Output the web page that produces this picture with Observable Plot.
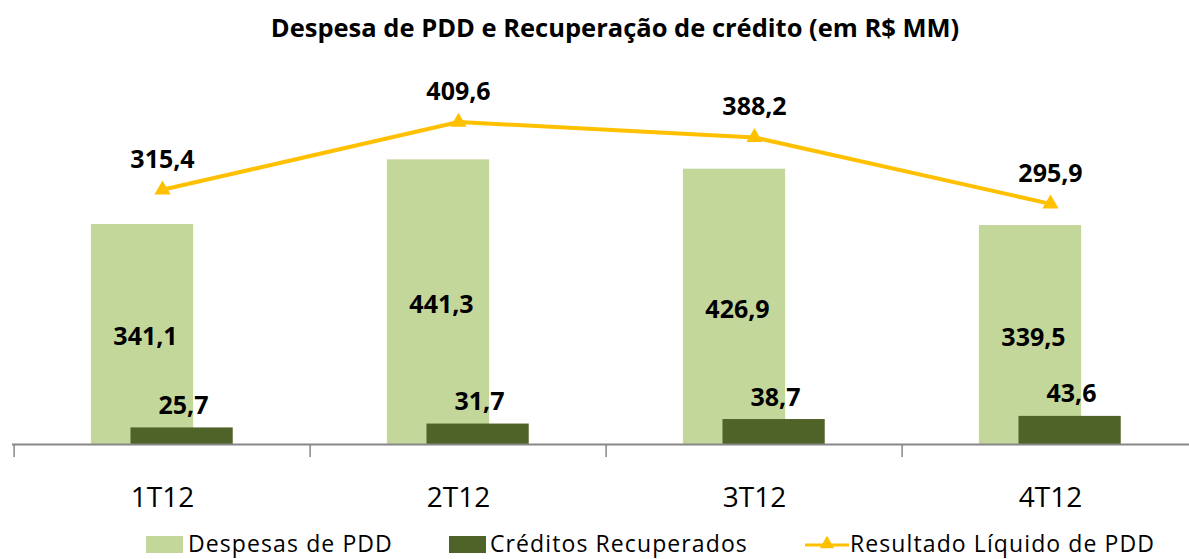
<!DOCTYPE html>
<html>
<head>
<meta charset="utf-8">
<script src="https://cdn.jsdelivr.net/npm/d3@7"></script>
<script src="https://cdn.jsdelivr.net/npm/@observablehq/plot@0.6"></script>
<style>
  html, body { margin: 0; padding: 0; background: #fff; overflow: hidden; }
  body { width: 1189px; height: 559px; font-family: "Open Sans", sans-serif; }
  #title { height: 50px; line-height: 54px; text-align: center; padding-left: 41px; box-sizing: border-box;
           font-weight: 700; font-size: 25.5px; color: #000; white-space: nowrap; }
  #legend { position: relative; height: 39px; }
  #legend .sw { position: absolute; top: 16px; width: 37px; height: 17px; }
  #legend .lab { position: absolute; top: 7px; font-size: 23px; line-height: 32px; letter-spacing: 1.1px; color: #000; white-space: nowrap; }
  svg { display: block; }
</style>
</head>
<body>
<div id="title">Despesa de PDD e Recuperação de crédito (em R$ MM)</div>
<div id="chart"></div>
<div id="legend"></div>
<script>
const categories = ["1T12", "2T12", "3T12", "4T12"];
const despesas = [341.1, 441.3, 426.9, 339.5];
const creditos = [25.7, 31.7, 38.7, 43.6];
const resultado = [315.4, 409.6, 388.2, 295.9];
const seriesNames = ["Despesas de PDD", "Créditos Recuperados", "Resultado Líquido de PDD"];
const colors = ["#C4D79B", "#4F6228", "#FFC000"];
const fmt = v => v.toFixed(1).replace(".", ",");

// secondary axis (line) mapped onto the primary axis
const primaryDomain = [0, 500];
const secondaryDomain = [-38.4, 409.6];
const toPrimary = d3.scaleLinear().domain(secondaryDomain).range(primaryDomain);

const rows = categories.map((c, i) => ({cat: c, d: despesas[i], c: creditos[i], r: resultado[i], rp: toPrimary(resultado[i])}));

const width = 1189, marginLeft = 12, marginRight = -10;
const band = (width - marginLeft - marginRight) / categories.length;
const barW = 103;
const inset = (band - barW) / 2;

const chart = Plot.plot({
  width, height: 470,
  marginLeft, marginRight, marginTop: 71.5, marginBottom: 76,
  style: {fontFamily: "Open Sans, sans-serif", overflow: "visible"},
  x: {domain: categories, padding: 0, axis: null},
  y: {domain: primaryDomain, axis: null},
  marks: [
    Plot.barY(rows, {x: "cat", y: "d", fill: colors[0], insetLeft: inset, insetRight: inset, dx: -20}),
    Plot.barY(rows, {x: "cat", y: "c", fill: colors[1], insetLeft: inset, insetRight: inset, dx: 19.6}),
    Plot.ruleY([0], {stroke: "#878787", strokeWidth: 2}),
    Plot.ruleX(categories, {x: d => d, dx: -band / 2, y1: 0, y2: -20, stroke: "#878787", strokeWidth: 1.5}),
    Plot.ruleX(categories.slice(-1), {x: d => d, dx: band / 2, y1: 0, y2: -20, stroke: "#878787", strokeWidth: 1.5}),
    Plot.text(rows, {x: "cat", y: 0, text: "cat", dy: 54, fontSize: 28, fill: "#000"}),
    Plot.text(rows, {x: "cat", y: d => d.d / 2, text: d => fmt(d.d), dx: -17, dy: 3, fontSize: 25, fontWeight: 700, fill: "#000"}),
    Plot.text(rows, {x: "cat", y: "c", text: d => fmt(d.c), dx: 21, dy: -22, fontSize: 25, fontWeight: 700, fill: "#000"}),
    Plot.line(rows, {x: "cat", y: "rp", stroke: colors[2], strokeWidth: 4}),
    Plot.dot(rows, {x: "cat", y: "rp", symbol: "triangle", r: 6, fill: colors[2], stroke: null}),
    Plot.text(rows, {x: "cat", y: "rp", text: d => fmt(d.r), dy: -30, fontSize: 25, fontWeight: 700, fill: "#000"})
  ]
});
document.getElementById("chart").appendChild(chart);

// legend
const legend = document.getElementById("legend");
const items = [
  {sw: 146, lab: 188, type: "rect"},
  {sw: 449, lab: 490, type: "rect"},
  {sw: 805, lab: 850, type: "line"}
];
items.forEach((it, i) => {
  if (it.type === "rect") {
    const s = document.createElement("div");
    s.className = "sw"; s.style.left = it.sw + "px"; s.style.background = colors[i];
    legend.appendChild(s);
  } else {
    const svg = d3.create("svg").attr("width", 46).attr("height", 20)
      .style("position", "absolute").style("left", it.sw + "px").style("top", "15px");
    svg.append("line").attr("x1", 0).attr("x2", 44).attr("y1", 10).attr("y2", 10).attr("stroke", colors[i]).attr("stroke-width", 3);
    svg.append("path").attr("d", d3.symbol(d3.symbolTriangle, 90)()).attr("transform", "translate(22,9)").attr("fill", colors[i]);
    legend.appendChild(svg.node());
  }
  const t = document.createElement("div");
  t.className = "lab"; t.style.left = it.lab + "px"; t.textContent = seriesNames[i];
  legend.appendChild(t);
});
</script>
</body>
</html>
